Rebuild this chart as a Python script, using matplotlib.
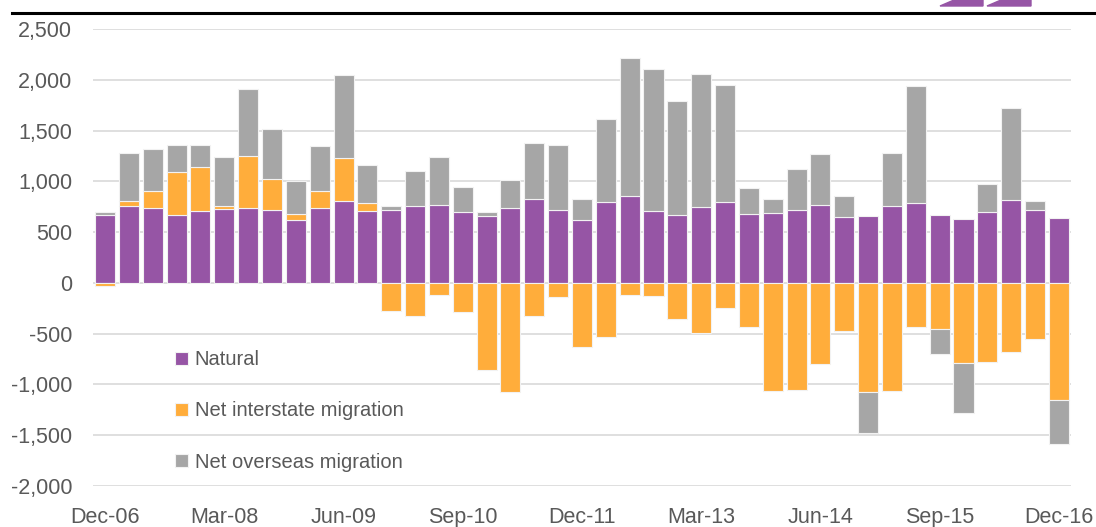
import numpy as np
import matplotlib.pyplot as plt
from matplotlib.patches import Polygon

# quarterly components of population change, Dec-06 .. Dec-16
natural = [670, 760, 735, 665, 705, 730, 740, 720, 620, 740, 805, 710, 720, 760, 770,
           700, 660, 740, 825, 720, 615, 800, 860, 710, 665, 750, 800, 675, 690, 720,
           770, 645, 660, 760, 790, 670, 625, 700, 815, 720, 640]
interstate = [-35, 45, 170, 425, 440, 25, 505, 300, 60, 160, 420, 80, -280, -330, -120,
              -290, -855, -1075, -325, -135, -635, -530, -120, -130, -355, -490, -245, -430,
              -1060, -1055, -795, -470, -1070, -1060, -435, -455, -785, -780, -680, -555, -1150]
overseas = [30, 475, 415, 265, 210, 480, 660, 500, 320, 445, 825, 370, 40, 340, 470,
            245, 35, 270, 555, 635, 210, 815, 1350, 1400, 1125, 1305, 1150, 255, 140, 400,
            495, 215, -410, 520, 1150, -245, -500, 275, 905, 90, -435]

tick_pos = [0, 5, 10, 15, 20, 25, 30, 35, 40]
tick_labels = ['Dec-06', 'Mar-08', 'Jun-09', 'Sep-10', 'Dec-11', 'Mar-13',
               'Jun-14', 'Sep-15', 'Dec-16']

series = [('Natural', natural, '#9655A5'),
          ('Net interstate migration', interstate, '#FFAD3B'),
          ('Net overseas migration', overseas, '#A6A6A6')]

plt.rcParams['font.family'] = ['Liberation Sans', 'DejaVu Sans']
txt = '#595959'

fig = plt.figure(figsize=(10.96, 5.27), dpi=100)
ax = fig.add_axes([0.085, 1 - 486 / 527, 0.892, (486 - 29) / 527])

x = np.arange(len(natural))
pos = np.zeros(len(x))
neg = np.zeros(len(x))
for name, vals, col in series:
    v = np.array(vals, dtype=float)
    bottom = np.where(v >= 0, pos, neg)
    ax.bar(x, v, 0.84, bottom=bottom, color=col, edgecolor='#f2f2f2',
           linewidth=0.8, label=name, zorder=3)
    pos = pos + np.where(v >= 0, v, 0)
    neg = neg + np.where(v < 0, v, 0)

ax.set_xlim(-0.5, len(x) - 0.5)
ax.set_ylim(-2000, 2500)
ax.set_yticks(range(-2000, 2501, 500))
ax.set_yticklabels([f'{t:,}' for t in range(-2000, 2501, 500)])
ax.set_xticks(tick_pos)
ax.set_xticklabels(tick_labels)
ax.tick_params(length=0, labelsize=15.5, colors=txt)
ax.tick_params(axis='y', pad=15)
ax.tick_params(axis='x', pad=15)
for s in ax.spines.values():
    s.set_visible(False)
ax.grid(axis='y', color='#d9d9d9', linewidth=1.2, zorder=0)

leg = ax.legend(loc='upper left', bbox_to_anchor=(0.084, 0.297), frameon=False,
                fontsize=14.5, labelcolor=txt, handlelength=0.62, handleheight=0.62,
                handletextpad=0.35, labelspacing=1.6, borderpad=0, borderaxespad=0)

# header rule and logo fragment
fig.add_artist(plt.Line2D([12 / 1096, 1], [1 - 13 / 527] * 2, color='black', lw=2.2))
for px in ([940, 954, 983, 983], [987, 1001, 1031, 1031]):
    pts = [(px[0] / 1096, 1 - 6 / 527), (px[1] / 1096, 1.0),
           (px[2] / 1096, 1.0), (px[3] / 1096, 1 - 6 / 527)]
    fig.add_artist(Polygon(pts, closed=True, color='#9655A5', transform=fig.transFigure))

fig.savefig('out.png', dpi=100)
